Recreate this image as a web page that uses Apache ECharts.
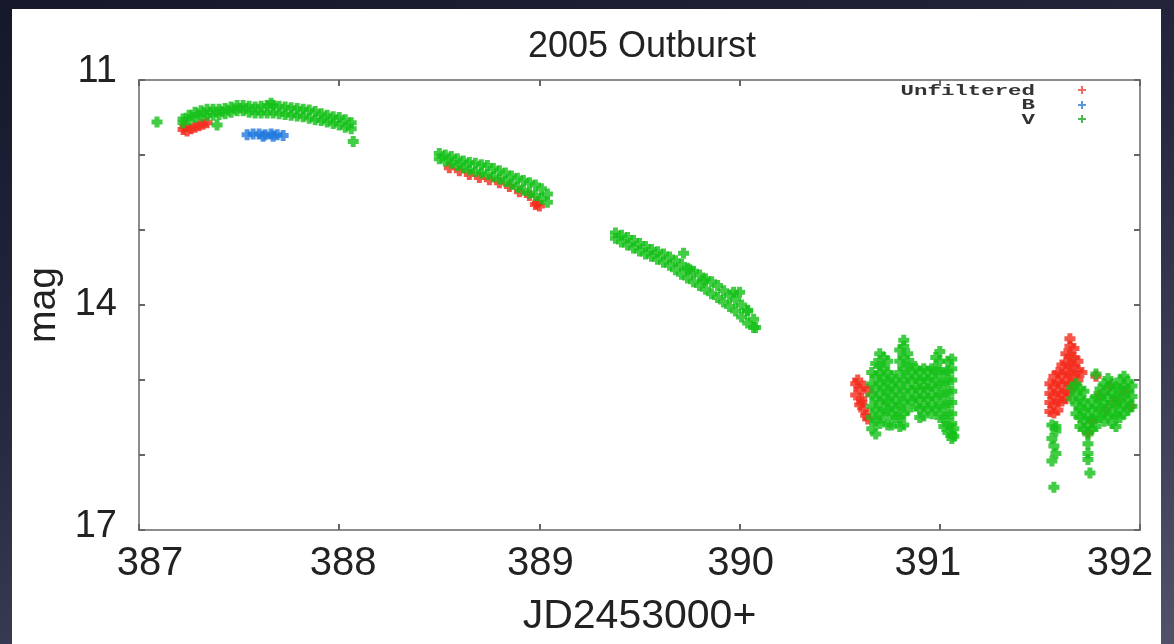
<!DOCTYPE html>
<html>
<head>
<meta charset="utf-8">
<script src="https://cdn.jsdelivr.net/npm/echarts@6/dist/echarts.min.js"></script>
<style>
  html, body { margin: 0; padding: 0; }
  body {
    width: 1174px; height: 644px; overflow: hidden; position: relative;
    background: linear-gradient(165deg, #15172a 0%, #262940 45%, #50526b 100%);
  }
  #panel { position: absolute; left: 12px; top: 9px; width: 1149px; height: 635px; background: #fff; }
  #chart { position: absolute; left: 0; top: 0; width: 1174px; height: 644px; }
</style>
</head>
<body>
<div id="panel"></div>
<div id="chart"></div>
<script>
// ---- data (JD - 2453000, magnitude) ----
// first night: V band, upper and lower rows
const v1X   = [387.22, 387.25, 387.28, 387.31, 387.34, 387.37, 387.40, 387.43, 387.46, 387.49, 387.52, 387.55, 387.58, 387.61, 387.64, 387.67, 387.70, 387.73, 387.76, 387.79, 387.82, 387.85, 387.88, 387.91, 387.94, 387.97, 388.00, 388.03, 388.06];
const v1Top = [11.52, 11.47, 11.43, 11.41, 11.39, 11.39, 11.39, 11.38, 11.36, 11.34, 11.34, 11.35, 11.36, 11.35, 11.34, 11.34, 11.35, 11.36, 11.37, 11.38, 11.39, 11.40, 11.42, 11.45, 11.47, 11.49, 11.50, 11.53, 11.57];
const v1Bot = [11.57, 11.53, 11.50, 11.48, 11.47, 11.47, 11.46, 11.45, 11.43, 11.41, 11.41, 11.43, 11.44, 11.44, 11.44, 11.44, 11.45, 11.46, 11.47, 11.48, 11.49, 11.51, 11.53, 11.54, 11.56, 11.58, 11.60, 11.63, 11.65];
// second night
const v2X   = [388.50, 388.53, 388.56, 388.59, 388.62, 388.65, 388.68, 388.71, 388.74, 388.77, 388.80, 388.83, 388.86, 388.89, 388.92, 388.95, 388.98, 389.01, 389.04];
const v2Top = [11.98, 12.00, 12.02, 12.05, 12.08, 12.10, 12.11, 12.13, 12.14, 12.18, 12.21, 12.24, 12.28, 12.31, 12.34, 12.37, 12.40, 12.45, 12.52];
const v2Bot = [12.05, 12.08, 12.11, 12.14, 12.17, 12.20, 12.22, 12.24, 12.26, 12.29, 12.32, 12.35, 12.39, 12.43, 12.47, 12.51, 12.54, 12.58, 12.63];
// third night
const v3X   = [389.38, 389.41, 389.44, 389.47, 389.50, 389.53, 389.56, 389.59, 389.62, 389.65, 389.68, 389.71, 389.74, 389.77, 389.80, 389.83, 389.86, 389.89, 389.92, 389.95, 389.98, 390.01, 390.04, 390.07];
const v3Top = [13.04, 13.07, 13.10, 13.14, 13.18, 13.22, 13.26, 13.29, 13.32, 13.36, 13.41, 13.46, 13.51, 13.55, 13.60, 13.65, 13.69, 13.74, 13.81, 13.87, 13.93, 14.00, 14.08, 14.19];
const v3Bot = [13.11, 13.16, 13.20, 13.24, 13.28, 13.32, 13.35, 13.39, 13.43, 13.47, 13.53, 13.59, 13.64, 13.69, 13.74, 13.79, 13.85, 13.90, 13.96, 14.02, 14.08, 14.16, 14.24, 14.30];
// loose V points
const vExtra = [[387.09, 11.56], [387.39, 11.60], [387.66, 11.31], [388.07, 11.82], [389.72, 13.31], [389.75, 13.53],
  [389.82, 13.67], [389.97, 13.83], [390.00, 13.83], [390.04, 14.07], [390.08, 14.30]];
// fourth and fifth nights: V columns [x, mags]
const v4Cols = [
  [390.66, [14.90, 15.05, 15.20, 15.35, 15.50, 15.65]],
  [390.68, [14.78, 14.95, 15.10, 15.25, 15.40, 15.55, 15.72]],
  [390.70, [14.65, 14.80, 14.92, 15.05, 15.18, 15.30, 15.45, 15.58]],
  [390.72, [14.70, 14.85, 15.00, 15.12, 15.25, 15.38, 15.50]],
  [390.74, [14.75, 14.90, 15.02, 15.15, 15.28, 15.40, 15.60]],
  [390.76, [14.95, 15.08, 15.20, 15.32, 15.45, 15.60]],
  [390.78, [15.00, 15.12, 15.25, 15.38, 15.50]],
  [390.80, [14.60, 14.75, 14.90, 15.05, 15.20, 15.35, 15.50, 15.62]],
  [390.82, [14.47, 14.55, 14.70, 14.85, 15.00, 15.15, 15.30, 15.45, 15.60]],
  [390.84, [14.65, 14.80, 14.95, 15.10, 15.25, 15.40]],
  [390.86, [14.78, 14.90, 15.02, 15.15, 15.28]],
  [390.88, [14.85, 14.97, 15.10, 15.22, 15.35]],
  [390.90, [14.88, 15.00, 15.12, 15.25, 15.38, 15.50]],
  [390.92, [14.85, 14.98, 15.10, 15.22, 15.35, 15.48]],
  [390.94, [14.88, 15.00, 15.12, 15.25, 15.38]],
  [390.96, [14.85, 14.95, 15.08, 15.20, 15.32, 15.45]],
  [390.98, [14.70, 14.85, 15.00, 15.12, 15.25, 15.40]],
  [391.00, [14.62, 14.75, 14.90, 15.05, 15.20, 15.35, 15.50]],
  [391.02, [14.90, 15.05, 15.20, 15.35, 15.50, 15.62]],
  [391.04, [14.75, 14.88, 15.00, 15.15, 15.30, 15.45, 15.60, 15.70]],
  [391.06, [14.72, 14.85, 15.00, 15.15, 15.30, 15.45, 15.58, 15.72, 15.78]],
  [391.07, [15.65, 15.75]]
];
const v5Cols = [
  [391.56, [15.60, 15.78, 16.08]],
  [391.57, [15.88, 16.43]],
  [391.58, [15.62, 15.68, 15.98]],
  [391.66, [15.10, 15.25]],
  [391.68, [15.05, 15.18, 15.32, 15.45]],
  [391.70, [15.12, 15.25, 15.38, 15.50, 15.62]],
  [391.72, [15.15, 15.28, 15.40, 15.52, 15.65]],
  [391.74, [15.35, 15.48, 15.60, 15.72, 15.85, 15.98, 16.06]],
  [391.75, [16.24]],
  [391.76, [15.28, 15.40, 15.52, 15.65]],
  [391.78, [14.92, 15.22, 15.35, 15.48, 15.62]],
  [391.80, [15.12, 15.25, 15.38, 15.50]],
  [391.82, [15.05, 15.18, 15.30, 15.42, 15.55]],
  [391.84, [14.98, 15.10, 15.22, 15.35, 15.48]],
  [391.86, [15.05, 15.18, 15.30, 15.45, 15.58]],
  [391.88, [15.10, 15.22, 15.35, 15.48, 15.62]],
  [391.90, [15.00, 15.12, 15.25, 15.38, 15.50]],
  [391.92, [14.95, 15.08, 15.20, 15.32, 15.45]],
  [391.94, [15.02, 15.15, 15.28, 15.40]],
  [391.96, [15.08, 15.22, 15.35]]
];
// unfiltered points
const unf1 = [[387.22, 11.66], [387.24, 11.68], [387.26, 11.65], [387.28, 11.63], [387.30, 11.61], [387.32, 11.59], [387.34, 11.57], [387.23, 11.62]];
const unf2 = [[388.55, 12.17], [388.60, 12.21], [388.65, 12.26], [388.70, 12.30], [388.75, 12.33], [388.80, 12.37], [388.85, 12.42],
  [388.90, 12.49], [388.95, 12.54], [388.99, 12.64], [389.00, 12.68], [388.98, 12.66]];
const unf4 = [[390.58, 15.05], [390.59, 15.00], [390.60, 15.12], [390.58, 15.20], [390.61, 15.25], [390.60, 15.33], [390.62, 15.40],
  [390.63, 15.47], [390.64, 15.15], [390.62, 15.08], [390.64, 15.52], [390.61, 15.30]];
const unf5Cols = [
  [391.55, [15.05, 15.18, 15.30, 15.42]],
  [391.57, [14.95, 15.08, 15.20, 15.32, 15.44]],
  [391.59, [14.90, 15.02, 15.15, 15.28, 15.40]],
  [391.61, [14.80, 14.92, 15.05, 15.18, 15.28]],
  [391.63, [14.65, 14.78, 14.90, 15.02, 15.15, 15.25]],
  [391.65, [14.45, 14.55, 14.68, 14.80, 14.92, 15.05, 15.15]],
  [391.67, [14.58, 14.70, 14.82, 14.95, 15.08]],
  [391.69, [14.75, 14.88, 15.00]],
  [391.71, [14.90]]
];
const unf5Extra = [[391.78, 14.95], [391.80, 15.20], [391.85, 15.08], [391.88, 15.28], [391.92, 15.15], [391.95, 15.35], [391.83, 15.40], [391.76, 15.55], [391.74, 15.70]];
// B points
const bPts = [[387.54, 11.73], [387.57, 11.72], [387.60, 11.72], [387.63, 11.73], [387.66, 11.72], [387.69, 11.73], [387.72, 11.74], [387.62, 11.75], [387.67, 11.75]];

const xTicks = [387, 388, 389, 390, 391, 392];
const yLabels = [11, 14, 17];

// ---- build point lists ----
function band(xs, top, bot) {
  const out = [];
  xs.forEach((x, i) => { out.push([x, top[i]]); out.push([x, bot[i]]); });
  return out;
}
function cols(list) {
  const out = [];
  list.forEach(c => c[1].forEach(m => out.push([c[0], m])));
  return out;
}
const vData = [].concat(band(v1X, v1Top, v1Bot), band(v2X, v2Top, v2Bot), band(v3X, v3Top, v3Bot), vExtra, cols(v4Cols), cols(v5Cols));
const unfData = [].concat(unf1, unf2, unf4, cols(unf5Cols), unf5Extra);

const plus = 'path://M3,0H8V3H11V8H8V11H3V8H0V3H3Z';
const symSize = 11;
const axisGrey = '#8c8c8c';
const font = '"Liberation Sans", Arial, sans-serif';

// small horizontal nudges of the x tick labels, as in the picture
const xRich = {
  l387: { padding: [0, 0, 0, 22] }, l388: { padding: [0, 0, 0, 8] }, l389: { padding: [0, 0, 0, 2] },
  l390: { padding: [0, 0, 0, 2] }, l391: { padding: [0, 24, 0, 0] }, l392: { padding: [0, 40, 0, 0] }
};
const yRich = { l11: { padding: [0, 0, 16, 0] }, l14: {}, l17: { padding: [0, 0, 6, 0] } };

const chart = echarts.init(document.getElementById('chart'));
const tickCommon = { show: true, inside: true, length: 6, lineStyle: { color: '#666', width: 2 } };
const option = {
  animation: false,
  grid: { left: 139, right: 34, top: 80, bottom: 114, show: true, borderColor: axisGrey, borderWidth: 2, backgroundColor: 'transparent' },
  xAxis: [
    {
      type: 'value', min: 387, max: 392, interval: 1, position: 'bottom',
      axisLine: { show: false }, splitLine: { show: false }, axisTick: tickCommon,
      axisLabel: { fontSize: 40, color: '#222', fontFamily: font, margin: 14, rich: xRich,
        formatter: v => xTicks.indexOf(v) >= 0 ? '{l' + v + '|' + v + '}' : '' },
      name: 'JD2453000+', nameLocation: 'middle', nameGap: 66,
      nameTextStyle: { fontSize: 41, color: '#222', fontFamily: font }
    },
    {
      type: 'value', min: 387, max: 392, interval: 1, position: 'top',
      axisLine: { show: false }, splitLine: { show: false }, axisTick: tickCommon, axisLabel: { show: false }
    }
  ],
  yAxis: [
    {
      type: 'value', inverse: true, min: 11, max: 17, interval: 1, position: 'left',
      axisLine: { show: false }, splitLine: { show: false }, axisTick: tickCommon,
      axisLabel: { fontSize: 38, color: '#222', fontFamily: font, margin: 22, rich: yRich,
        formatter: v => yLabels.indexOf(v) >= 0 ? '{l' + v + '|' + v + '}' : '' },
      name: 'mag', nameLocation: 'middle', nameGap: 72,
      nameTextStyle: { fontSize: 39, color: '#222', fontFamily: font }
    },
    {
      type: 'value', inverse: true, min: 11, max: 17, interval: 1, position: 'right',
      axisLine: { show: false }, splitLine: { show: false }, axisTick: tickCommon, axisLabel: { show: false }
    }
  ],
  series: [
    { name: 'Unfiltered', type: 'scatter', symbol: plus, symbolSize: symSize, data: unfData, itemStyle: { color: '#f42a1c' } },
    { name: 'B', type: 'scatter', symbol: plus, symbolSize: symSize, data: bPts, itemStyle: { color: '#2079df' } },
    { name: 'V', type: 'scatter', symbol: plus, symbolSize: symSize, data: vData, itemStyle: { color: '#14c118' } }
  ],
  graphic: [
    { type: 'text', x: 642, y: 29, style: { text: '2005 Outburst', font: '36px ' + font, fill: '#222', textAlign: 'center', textVerticalAlign: 'top' } },
    { type: 'text', x: 1035, y: 91, scaleX: 1.6, style: { text: 'Unfiltered', font: 'bold 14px "Liberation Mono", monospace', fill: '#333', textAlign: 'right', textVerticalAlign: 'middle' } },
    { type: 'text', x: 1035, y: 105, scaleX: 1.6, style: { text: 'B', font: 'bold 14px "Liberation Mono", monospace', fill: '#333', textAlign: 'right', textVerticalAlign: 'middle' } },
    { type: 'text', x: 1035, y: 120, scaleX: 1.6, style: { text: 'V', font: 'bold 14px "Liberation Mono", monospace', fill: '#333', textAlign: 'right', textVerticalAlign: 'middle' } },
    { type: 'polygon', x: 1082, y: 90, shape: { points: [[-1, -4], [1, -4], [1, -1], [4, -1], [4, 1], [1, 1], [1, 4], [-1, 4], [-1, 1], [-4, 1], [-4, -1], [-1, -1]] }, style: { fill: '#f06a60' } },
    { type: 'polygon', x: 1082, y: 105, shape: { points: [[-1, -4], [1, -4], [1, -1], [4, -1], [4, 1], [1, 1], [1, 4], [-1, 4], [-1, 1], [-4, 1], [-4, -1], [-1, -1]] }, style: { fill: '#5a98d8' } },
    { type: 'polygon', x: 1082, y: 119, shape: { points: [[-1, -4], [1, -4], [1, -1], [4, -1], [4, 1], [1, 1], [1, 4], [-1, 4], [-1, 1], [-4, 1], [-4, -1], [-1, -1]] }, style: { fill: '#50b850' } }
  ]
};
chart.setOption(option);
</script>
</body>
</html>
